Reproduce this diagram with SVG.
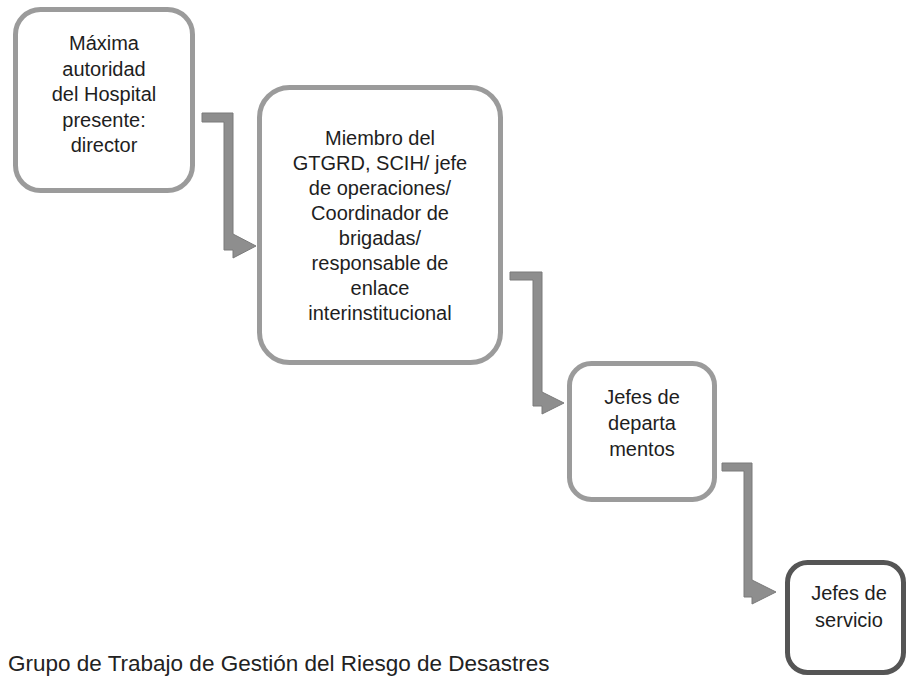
<svg xmlns="http://www.w3.org/2000/svg" width="909" height="677" viewBox="0 0 909 677">
<style>
.box{fill:#ffffff;stroke:#9b9b9b;stroke-width:5}
.box4{fill:#ffffff;stroke:#555555;stroke-width:5}
.t{font-family:"Liberation Sans",Arial,sans-serif;font-size:20px;fill:#1e1e1e;text-anchor:middle}
.arrow{fill:#8e8e8e;stroke:#7a7a7a;stroke-width:1}
.cap{font-family:"Liberation Sans",Arial,sans-serif;font-size:22.5px;fill:#222}
</style>
<rect width="909" height="677" fill="#ffffff"/>
<g id="connectors">
<polygon class="arrow" points="202,113 233,113 233,234 256,246 233,258 233,250 224,250 224,122 202,122"/>
<polygon class="arrow" points="510,272 542,272 542,392 564,403 542,414 542,406 533,406 533,280 510,280"/>
<polygon class="arrow" points="722,463 752,463 752,580 776,592 752,604 752,597 744,597 744,471 722,471"/>
</g>
<g id="node1">
<rect class="box" x="15.5" y="9.5" width="177" height="181" rx="25"/>
<text class="t" x="104" y="50">Máxima</text>
<text class="t" x="104" y="75.5">autoridad</text>
<text class="t" x="104" y="101">del Hospital</text>
<text class="t" x="104" y="126.5">presente:</text>
<text class="t" x="104" y="152">director</text>
</g>
<g id="node2">
<rect class="box" x="259.5" y="87.5" width="241" height="275" rx="30"/>
<text class="t" x="380" y="145">Miembro del</text>
<text class="t" x="380" y="170">GTGRD, SCIH/ jefe</text>
<text class="t" x="380" y="195">de operaciones/</text>
<text class="t" x="380" y="220">Coordinador de</text>
<text class="t" x="380" y="245">brigadas/</text>
<text class="t" x="380" y="270">responsable de</text>
<text class="t" x="380" y="295">enlace</text>
<text class="t" x="380" y="320">interinstitucional</text>
</g>
<g id="node3">
<rect class="box" x="569.5" y="363.5" width="145" height="136" rx="22"/>
<text class="t" x="642" y="404">Jefes de</text>
<text class="t" x="642" y="430">departa</text>
<text class="t" x="642" y="456">mentos</text>
</g>
<g id="node4">
<rect class="box4" x="787.5" y="562.5" width="116" height="110" rx="20"/>
<text class="t" x="849" y="600">Jefes de</text>
<text class="t" x="849" y="627">servicio</text>
</g>
<text class="cap" x="8" y="671">Grupo de Trabajo de Gestión del Riesgo de Desastres</text>
</svg>
